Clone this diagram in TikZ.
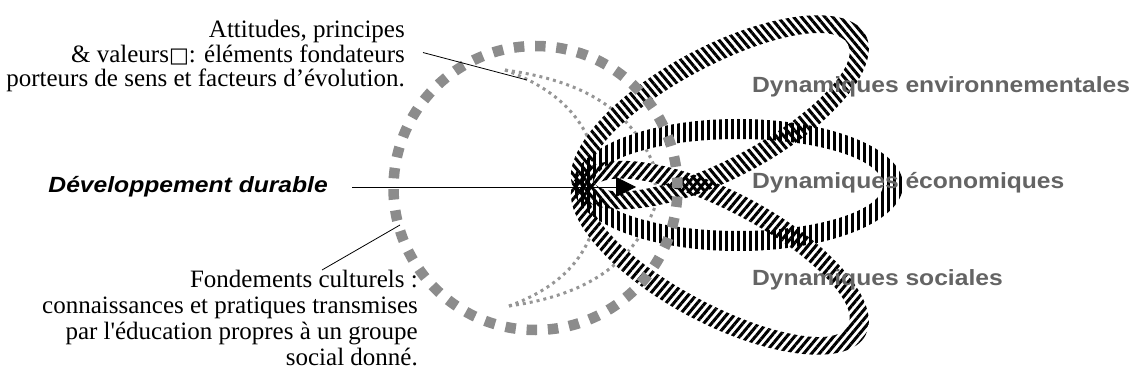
\documentclass[tikz,border=0pt]{standalone}
\usepackage{fontspec}
\usepackage{tikz}
\usetikzlibrary{arrows.meta, patterns.meta}
\setmainfont{Liberation Serif}
\newfontfamily\labelfont[FakeStretch=1.12]{Liberation Sans}
\newfontfamily\boxfont{DejaVu Sans}
\definecolor{ringgray}{RGB}{140,140,140}
\definecolor{dotgray}{RGB}{150,150,150}
\definecolor{labelgray}{RGB}{100,100,100}

\begin{document}
\begin{tikzpicture}[x=1pt, y=1pt,
    note/.style={align=right, inner sep=0pt, font=\fontsize{25}{24.5}\selectfont},
    dyn/.style={anchor=base west, inner sep=0pt, text=labelgray,
                font=\labelfont\bfseries\fontsize{22}{26}\selectfont},
    lead/.style={line width=0.8pt},
    dots/.style={dotgray, line width=3pt, dash pattern=on 3pt off 4pt},
    arr/.style={-{Triangle[length=20pt, width=20pt]}, line width=0.9pt}
]
\useasboundingbox (0,0) rectangle (1133,378);

\coordinate (apexT) at (505,308);
\coordinate (apexB) at (509,72);
\coordinate (frontTL) at (598,201);
\coordinate (frontBL) at (598,175);
\coordinate (frontTR) at (655,210);
\coordinate (frontBR) at (655,171);
\draw[dots] (apexT) to[out=-20, in=95] (frontTL) -- (frontBL);
\draw[dots] (apexB) to[out=20, in=-95] (frontBL);
\draw[dots] (apexT) to[out=-8, in=112] (frontTR) -- (frontBR);
\draw[dots] (apexB) to[out=8, in=-112] (frontBR);

\foreach \ang in {0, 28, -28}
  \fill[white, even odd rule, rotate around={\ang:(583,193)}]
    (738,193) ellipse [x radius=165, y radius=66]
    (738,193) ellipse [x radius=145, y radius=46];
\foreach \ang/\hatch in {0/90, 28/130, -28/50}
  \fill[pattern={Lines[angle=\hatch, distance=6pt, line width=3pt]},
        even odd rule, rotate around={\ang:(583,193)}]
    (738,193) ellipse [x radius=165, y radius=66]
    (738,193) ellipse [x radius=145, y radius=46];

\draw[ringgray, line width=10.5pt, dash pattern=on 10.5pt off 10.8pt]
  (535.5,190) circle [radius=142];

\node[note, anchor=north east] (att) at (405,358)
  {Attitudes, principes\\ \& valeurs{\boxfont\fontsize{21}{24}\selectfont □}: éléments fondateurs\\ porteurs de sens et facteurs d’évolution.};
\node[note, anchor=north east, font=\fontsize{25}{26}\selectfont] (fond) at (418,108)
  {Fondements culturels :\\ connaissances et pratiques transmises\\ par l\textquotesingle éducation propres à un groupe\\ social donné.};
\node[anchor=east, inner sep=0pt, font=\labelfont\bfseries\itshape\fontsize{22}{26}\selectfont]
  (dev) at (328,191) {Développement durable};

\node[dyn] (env) at (752,285) {Dynamiques environnementales};
\node[dyn] (eco) at (752,189) {Dynamiques économiques};
\node[dyn] (soc) at (752,93) {Dynamiques sociales};

\coordinate (attEnd) at (527,298);
\coordinate (fondStart) at (400,153);
\coordinate (devTip) at (636,191);
\draw[lead] (att.east) ++(18,3.5) -- (attEnd);
\draw[lead] (fondStart) -- ([xshift=-96]fond.north east);
\draw[arr] ([xshift=24]dev.east) -- (devTip);
\end{tikzpicture}
\end{document}
